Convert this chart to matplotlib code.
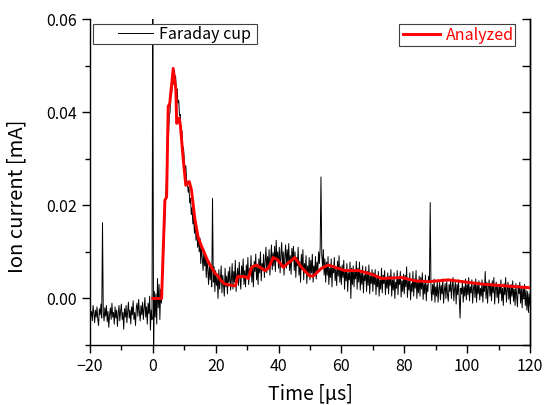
import numpy as np
import matplotlib
matplotlib.use("Agg")
import matplotlib.pyplot as plt
from matplotlib.patches import Rectangle

plt.rcParams['font.family'] = ['Noto Sans CJK JP', 'DejaVu Sans']

# Faraday cup trace: time step 0.25 us from -20 to 120 us (values in mA)
fc_t_start, fc_t_step = -20.0, 0.25
fc_current = [
    # -20 .. -15.25
    -0.0020, -0.0038, -0.0028, -0.0048, -0.0015, -0.0032, -0.0052, -0.0025, -0.0040, -0.0018,
    -0.0045, -0.0058, -0.0022, -0.0035, -0.0012, -0.0042, 0.0163, -0.0030, -0.0048, -0.0020,
    # -15 .. -10.25
    -0.0038, -0.0015, -0.0050, -0.0028, -0.0062, -0.0035, -0.0020, -0.0045, -0.0010, -0.0040,
    -0.0030, -0.0055, -0.0018, -0.0042, -0.0025, -0.0060, -0.0033, -0.0015, -0.0048, -0.0028,
    # -10 .. -5.25
    -0.0012, -0.0045, -0.0030, -0.0066, -0.0022, -0.0040, -0.0015, -0.0052, -0.0028, -0.0008,
    -0.0042, -0.0025, -0.0055, -0.0018, -0.0035, -0.0005, -0.0045, -0.0030, -0.0058, -0.0020,
    # -5 .. -0.25
    -0.0010, -0.0038, -0.0002, -0.0030, -0.0048, -0.0015, -0.0035, -0.0008, -0.0045, -0.0022,
    0.0002, -0.0040, -0.0018, -0.0055, -0.0010, -0.0032, 0.0005, -0.0068, -0.0025, -0.0045,
    # 0 .. 4.75
    0.0650, -0.0130, 0.0015, -0.0040, 0.0010, -0.0055, 0.0043, -0.0020, 0.0030, -0.0045,
    0.0020, -0.0010, 0.0040, 0.0060, 0.0110, 0.0150, 0.0200, 0.0240, 0.0290, 0.0320,
    # 5 .. 9.75
    0.0350, 0.0395, 0.0400, 0.0445, 0.0440, 0.0470, 0.0460, 0.0483, 0.0465, 0.0478,
    0.0445, 0.0450, 0.0420, 0.0425, 0.0392, 0.0395, 0.0352, 0.0360, 0.0322, 0.0325,
    # 10 .. 14.75
    0.0300, 0.0275, 0.0285, 0.0255, 0.0250, 0.0228, 0.0240, 0.0205, 0.0215, 0.0180,
    0.0195, 0.0160, 0.0175, 0.0140, 0.0165, 0.0125, 0.0150, 0.0110, 0.0140, 0.0100,
    # 15 .. 19.75
    0.0130, 0.0075, 0.0115, 0.0085, 0.0060, 0.0105, 0.0070, 0.0095, 0.0045, 0.0085,
    0.0060, 0.0030, 0.0080, 0.0040, 0.0070, 0.0025, 0.0215, 0.0035, 0.0068, 0.0015,
    # 20 .. 24.75
    0.0060, 0.0028, 0.0045, 0.0000, 0.0062, 0.0020, 0.0040, 0.0070, 0.0012, 0.0050,
    0.0030, 0.0005, 0.0065, 0.0025, 0.0048, 0.0010, 0.0058, 0.0035, 0.0068, 0.0018,
    # 25 .. 29.75
    0.0040, 0.0075, 0.0020, 0.0058, 0.0035, 0.0082, 0.0015, 0.0050, 0.0065, 0.0028,
    0.0078, 0.0042, 0.0020, 0.0070, 0.0048, 0.0085, 0.0030, 0.0060, 0.0025, 0.0072,
    # 30 .. 34.75
    0.0045, 0.0088, 0.0030, 0.0065, 0.0050, 0.0092, 0.0035, 0.0070, 0.0025, 0.0080,
    0.0058, 0.0095, 0.0040, 0.0068, 0.0030, 0.0085, 0.0055, 0.0100, 0.0038, 0.0075,
    # 35 .. 39.75
    0.0060, 0.0095, 0.0045, 0.0080, 0.0110, 0.0055, 0.0090, 0.0068, 0.0105, 0.0050,
    0.0085, 0.0115, 0.0062, 0.0098, 0.0070, 0.0112, 0.0058, 0.0125, 0.0080, 0.0100,
    # 40 .. 44.75
    0.0065, 0.0110, 0.0055, 0.0095, 0.0120, 0.0070, 0.0100, 0.0050, 0.0090, 0.0115,
    0.0065, 0.0105, 0.0075, 0.0118, 0.0060, 0.0092, 0.0052, 0.0108, 0.0080, 0.0112,
    # 45 .. 49.75
    0.0060, 0.0100, 0.0045, 0.0088, 0.0070, 0.0110, 0.0050, 0.0080, 0.0035, 0.0095,
    0.0062, 0.0105, 0.0040, 0.0075, 0.0055, 0.0092, 0.0032, 0.0070, 0.0048, 0.0088,
    # 50 .. 54.75
    0.0040, 0.0082, 0.0055, 0.0095, 0.0035, 0.0070, 0.0050, 0.0090, 0.0042, 0.0078,
    0.0060, 0.0100, 0.0075, 0.0110, 0.0261, 0.0095, 0.0068, 0.0105, 0.0050, 0.0085,
    # 55 .. 59.75
    0.0035, 0.0078, 0.0050, 0.0090, 0.0030, 0.0065, 0.0045, 0.0085, 0.0025, 0.0070,
    0.0055, 0.0088, 0.0038, 0.0062, 0.0028, 0.0080, 0.0048, 0.0092, 0.0035, 0.0068,
    # 60 .. 64.75
    0.0030, 0.0072, 0.0045, 0.0082, 0.0020, 0.0060, 0.0038, 0.0075, 0.0015, 0.0055,
    0.0040, 0.0078, 0.0000, 0.0065, 0.0030, 0.0070, 0.0025, 0.0058, 0.0042, 0.0080,
    # 65 .. 69.75
    0.0020, 0.0065, 0.0035, 0.0078, 0.0018, 0.0055, 0.0030, 0.0070, 0.0012, 0.0050,
    0.0038, 0.0068, 0.0015, 0.0058, 0.0028, 0.0072, 0.0010, 0.0048, 0.0032, 0.0062,
    # 70 .. 74.75
    0.0015, 0.0055, 0.0030, 0.0062, 0.0008, 0.0045, 0.0025, 0.0058, 0.0005, 0.0040,
    0.0020, 0.0065, 0.0012, 0.0050, 0.0032, 0.0060, 0.0008, 0.0042, 0.0022, 0.0055,
    # 75 .. 79.75
    0.0010, 0.0048, 0.0028, 0.0062, 0.0005, 0.0040, 0.0018, 0.0055, 0.0000, 0.0035,
    0.0022, 0.0060, 0.0008, 0.0045, 0.0030, 0.0058, 0.0003, 0.0038, 0.0015, 0.0052,
    # 80 .. 84.75
    0.0010, 0.0050, 0.0025, 0.0068, 0.0002, 0.0038, 0.0018, 0.0055, -0.0003, 0.0032,
    0.0015, 0.0058, 0.0005, 0.0042, 0.0022, 0.0060, 0.0000, 0.0035, 0.0012, 0.0048,
    # 85 .. 89.75
    0.0005, 0.0045, 0.0020, 0.0055, -0.0002, 0.0032, 0.0010, 0.0050, -0.0005, 0.0030,
    0.0015, 0.0048, 0.0035, 0.0206, 0.0020, -0.0005, 0.0030, 0.0008, 0.0042, -0.0008,
    # 90 .. 94.75
    0.0025, 0.0005, 0.0040, -0.0008, 0.0020, 0.0035, -0.0003, 0.0028, 0.0010, 0.0042,
    -0.0010, 0.0018, 0.0032, 0.0000, 0.0038, 0.0008, -0.0006, 0.0030, 0.0015, 0.0040,
    # 95 .. 99.75
    0.0000, 0.0025, 0.0045, -0.0005, 0.0020, 0.0035, -0.0012, 0.0030, 0.0008, 0.0040,
    -0.0002, -0.0042, 0.0022, 0.0010, 0.0038, -0.0008, 0.0025, 0.0005, 0.0042, -0.0003,
    # 100 .. 104.75
    0.0030, 0.0008, 0.0045, -0.0005, 0.0025, 0.0012, 0.0040, -0.0010, 0.0020, 0.0035,
    0.0002, 0.0042, -0.0008, 0.0028, 0.0010, 0.0038, -0.0003, 0.0022, 0.0005, 0.0040,
    # 105 .. 109.75
    -0.0008, 0.0030, 0.0015, 0.0058, 0.0000, 0.0035, -0.0010, 0.0025, 0.0040, 0.0005,
    0.0032, -0.0005, 0.0038, 0.0012, 0.0045, -0.0012, 0.0020, 0.0035, 0.0002, 0.0030,
    # 110 .. 114.75
    -0.0010, 0.0028, 0.0010, 0.0040, -0.0005, 0.0022, -0.0015, 0.0032, 0.0008, 0.0045,
    -0.0008, 0.0018, 0.0035, -0.0002, 0.0025, -0.0012, 0.0030, 0.0005, 0.0038, -0.0006,
    # 115 .. 119.75
    0.0020, -0.0015, 0.0032, 0.0005, -0.0018, 0.0028, 0.0010, 0.0035, -0.0010, 0.0022,
    -0.0020, 0.0025, 0.0000, 0.0030, -0.0015, 0.0018, -0.0025, 0.0015, -0.0030, 0.0010,
    # 120
    -0.0015,
]
fc_time = fc_t_start + fc_t_step * np.arange(len(fc_current))

# Analyzed curve
an_time = [0, 2.8, 3.85, 4.4, 4.6, 4.9, 5.4, 6.5, 7.35, 7.6, 8.4, 8.8, 9.7, 10.5,
           11.6, 12.3, 13.4, 14.4, 15.5, 17.6, 19.8, 20.8, 21.5, 22.9, 26.3, 27.0,
           29.3, 30.4, 31.4, 33.0, 35.7, 36.9, 38.3, 39.7, 41.5, 45.2, 47.3, 49.8,
           51.0, 53.7, 55.8, 57.9, 61.1, 65.4, 69.6, 72.8, 79.2, 83.4, 87.6, 94.0,
           104.6, 120.0]
an_current = [0.0, 0.0, 0.0211, 0.0218, 0.0297, 0.0412, 0.0419, 0.0494, 0.0447, 0.0376,
              0.0387, 0.0370, 0.0297, 0.0243, 0.0251, 0.0233, 0.0170, 0.0132, 0.0112,
              0.0079, 0.0054, 0.0048, 0.0040, 0.0031, 0.0027, 0.0047, 0.0047, 0.0043,
              0.0067, 0.0072, 0.0060, 0.0066, 0.0088, 0.0083, 0.0067, 0.0088, 0.0067,
              0.0049, 0.0048, 0.0065, 0.0072, 0.0067, 0.0060, 0.0060, 0.0052, 0.0043,
              0.0045, 0.0038, 0.0036, 0.0040, 0.0031, 0.0023]

x_ticks = [-20, 0, 20, 40, 60, 80, 100, 120]
y_ticks = [0.00, 0.02, 0.04, 0.06]
y_minor = [-0.01, 0.01, 0.03, 0.05]

fig = plt.figure(figsize=(5.45, 4.05), dpi=100)
ax = fig.add_axes([0.165, 0.148, 0.8075, 0.805])

l1, = ax.plot(fc_time, fc_current, color='black', lw=0.7, label='Faraday cup', zorder=2)
l2, = ax.plot(an_time, an_current, color='#ff0000', lw=2.1, label='Analyzed', zorder=3)

ax.set_xlim(-20, 120)
ax.set_ylim(-0.01, 0.06)
ax.set_xticks(x_ticks)
ax.set_yticks(y_ticks)
ax.set_yticklabels([f"{v:.2f}" for v in y_ticks])
ax.set_xticks(np.arange(-10, 120, 20), minor=True)
ax.set_yticks(y_minor, minor=True)
ax.spines['top'].set_visible(False)
for s in ['left', 'bottom', 'right']:
    ax.spines[s].set_linewidth(1.0)
ax.tick_params(which='major', direction='out', length=6, width=1.0, labelsize=11.5)
ax.tick_params(which='minor', direction='out', length=3.5, width=1.0)
ax.tick_params(right=False, top=False, which='both')

sec = ax.secondary_yaxis('right')
sec.set_yticks(y_ticks)
sec.set_yticks(y_minor, minor=True)
sec.tick_params(which='both', direction='in', length=6, width=1.0, labelright=False)
sec.spines['right'].set_linewidth(1.0)

ax.set_xlabel('Time [μs]', fontsize=14, labelpad=6.5)
ax.set_ylabel('Ion current [mA]', fontsize=14.5)
ax.yaxis.set_label_coords(-0.142, 0.455)

# legend boxes
for (x0, y0, w, h) in [(0.0068, 0.9233, 0.3727, 0.0614), (0.702, 0.917, 0.264, 0.0677)]:
    ax.add_patch(Rectangle((x0, y0), w, h, transform=ax.transAxes, facecolor='white',
                           edgecolor='#404040', lw=0.8, zorder=4.5, clip_on=False))

leg1 = ax.legend(handles=[l1], loc='center left', bbox_to_anchor=(0.0636, 0.954),
                 fontsize=11.5, frameon=False, borderpad=0, handlelength=2.2,
                 handletextpad=0.375, borderaxespad=0)
ax.add_artist(leg1)
leg2 = ax.legend(handles=[l2], loc='center left', bbox_to_anchor=(0.711, 0.951),
                 fontsize=11.5, frameon=False, borderpad=0, handlelength=2.3,
                 handletextpad=0.375, borderaxespad=0, labelcolor='#ff0000')
leg1.set_zorder(6)
leg2.set_zorder(6)

fig.savefig('out.png', dpi=100)
